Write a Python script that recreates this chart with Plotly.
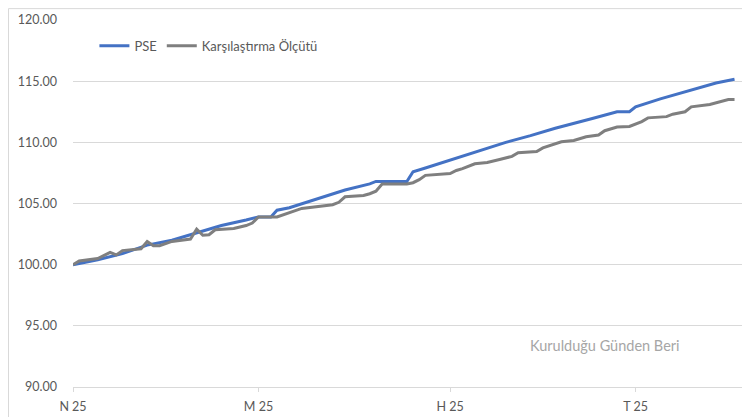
import plotly.graph_objects as go

# PSE series
pse_dates = ["2025-04-01", "2025-04-05", "2025-04-09", "2025-04-13", "2025-04-17", "2025-04-21",
             "2025-04-25", "2025-04-29", "2025-05-01", "2025-05-03", "2025-05-04", "2025-05-06",
             "2025-05-10", "2025-05-15", "2025-05-19", "2025-05-20", "2025-05-25", "2025-05-26",
             "2025-05-28", "2025-06-01", "2025-06-05", "2025-06-10", "2025-06-14", "2025-06-18",
             "2025-06-24", "2025-06-28", "2025-06-30", "2025-07-01", "2025-07-05", "2025-07-09",
             "2025-07-14", "2025-07-17"]
pse_values = [100.0, 100.4, 100.9, 101.6, 102.0, 102.6,
              103.2, 103.65, 103.9, 103.9, 104.45, 104.65,
              105.3, 106.1, 106.6, 106.8, 106.8, 107.6,
              107.9, 108.55, 109.2, 110.0, 110.55, 111.15,
              111.95, 112.5, 112.5, 112.9, 113.55, 114.1,
              114.85, 115.15]

# Benchmark series
bm_dates = ["2025-04-01", "2025-04-02", "2025-04-05", "2025-04-07", "2025-04-08", "2025-04-09",
            "2025-04-12", "2025-04-13", "2025-04-14", "2025-04-15", "2025-04-17", "2025-04-19",
            "2025-04-20", "2025-04-21", "2025-04-22", "2025-04-23", "2025-04-24", "2025-04-27",
            "2025-04-29", "2025-04-30", "2025-05-01", "2025-05-04", "2025-05-07", "2025-05-08",
            "2025-05-13", "2025-05-14", "2025-05-15", "2025-05-18", "2025-05-19", "2025-05-20",
            "2025-05-21", "2025-05-25", "2025-05-26", "2025-05-27", "2025-05-28", "2025-05-31",
            "2025-06-01", "2025-06-02", "2025-06-03", "2025-06-05", "2025-06-07", "2025-06-09",
            "2025-06-11", "2025-06-12", "2025-06-15", "2025-06-16", "2025-06-17", "2025-06-19",
            "2025-06-21", "2025-06-23", "2025-06-25", "2025-06-26", "2025-06-28", "2025-06-30",
            "2025-07-02", "2025-07-03", "2025-07-06", "2025-07-07", "2025-07-09", "2025-07-10",
            "2025-07-13", "2025-07-14", "2025-07-15", "2025-07-16", "2025-07-17"]
bm_values = [100.0, 100.3, 100.5, 101.0, 100.8, 101.15,
             101.3, 101.9, 101.55, 101.55, 101.9, 102.05,
             102.1, 102.9, 102.4, 102.45, 102.85, 102.95,
             103.2, 103.4, 103.9, 103.9, 104.4, 104.6,
             104.9, 105.1, 105.55, 105.65, 105.8, 106.0,
             106.6, 106.6, 106.7, 106.95, 107.3, 107.4,
             107.45, 107.7, 107.85, 108.25, 108.35, 108.6,
             108.85, 109.15, 109.25, 109.55, 109.7, 110.05,
             110.15, 110.45, 110.6, 110.95, 111.25, 111.3,
             111.7, 112.0, 112.1, 112.3, 112.5, 112.9,
             113.1, 113.25, 113.35, 113.5, 113.5]

tick_dates = ["2025-04-01", "2025-05-01", "2025-06-01", "2025-07-01"]
tick_labels = ["N 25", "M 25", "H 25", "T 25"]

FONT = "Lato"
TXT = "#595959"
GRID = "#d9d9d9"

fig = go.Figure()
fig.add_trace(go.Scatter(x=pse_dates, y=pse_values, mode="lines", name="PSE",
                         line=dict(color="#4472C4", width=3)))
fig.add_trace(go.Scatter(x=bm_dates, y=bm_values, mode="lines", name="Karşılaştırma Ölçütü",
                         line=dict(color="#7F7F7F", width=3)))

# page body has an 8px margin, so the figure is sized/offset to compensate
fig.update_layout(
    width=742, height=409,
    margin=dict(l=65, r=8, t=12, b=30),
    paper_bgcolor="white", plot_bgcolor="white",
    font=dict(family=FONT, size=12, color=TXT),
    showlegend=True,
    legend=dict(orientation="h", x=0.032, y=0.93, xanchor="left", yanchor="middle",
                font=dict(family=FONT, size=13, color=TXT), itemwidth=30,
                bgcolor="rgba(0,0,0,0)"),
    xaxis=dict(type="date", range=["2025-04-01", "2025-07-18 05:00"],
               tickmode="array", tickvals=tick_dates, ticktext=tick_labels,
               showgrid=False, showline=True, linecolor=GRID, linewidth=1,
               ticks="outside", ticklen=4, tickcolor=GRID, ticklabelstandoff=4,
               automargin=False,
               tickfont=dict(family=FONT, size=12.5, color=TXT), zeroline=False),
    yaxis=dict(range=[90, 120], dtick=5, tick0=90, tickformat=".2f",
               showgrid=True, gridcolor=GRID, gridwidth=1, zeroline=False,
               showline=False, ticks="", ticklabelstandoff=15, automargin=False,
               tickfont=dict(family=FONT, size=12.5, color=TXT)),
    annotations=[dict(text="Kurulduğu Günden Beri", xref="paper", yref="paper",
                      x=0.795, y=0.114, xanchor="center", yanchor="middle", showarrow=False,
                      font=dict(family=FONT, size=14.5, color="#a6a6a6"))],
    shapes=[dict(type="rect", xref="paper", yref="paper",
                 x0=-0.0964, x1=1.02, y0=-0.2, y1=1.031,
                 line=dict(color="#d9d9d9", width=1), fillcolor="rgba(0,0,0,0)",
                 layer="below")],
)

fig.write_html("out.html")
